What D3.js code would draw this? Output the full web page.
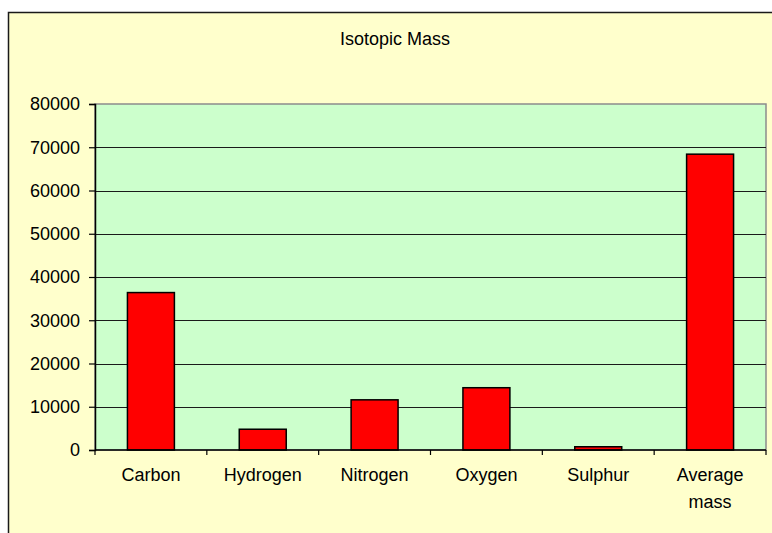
<!DOCTYPE html>
<html>
<head>
<meta charset="utf-8">
<script src="https://cdn.jsdelivr.net/npm/d3@7"></script>
<style>
  body { margin: 0; background: #fff; }
  text { font-family: 'Liberation Sans', Arial, sans-serif; fill: #000; }
</style>
</head>
<body>
<svg id="chart"></svg>
<script>
const categories = ['Carbon', 'Hydrogen', 'Nitrogen', 'Oxygen', 'Sulphur', 'Average mass'];
const massValues = [36400, 4800, 11600, 14400, 750, 68400];
const yTicks = [0, 10000, 20000, 30000, 40000, 50000, 60000, 70000, 80000];
const chartTitle = 'Isotopic Mass';

const width = 772;
const height = 533;
const plot = { left: 95, right: 766, top: 104, bottom: 450 };

const svg = d3.select('#chart')
  .attr('width', width)
  .attr('height', height);

// chart area (runs off the right and bottom edge in the original)
svg.append('rect')
  .attr('x', 8.5)
  .attr('y', 12.5)
  .attr('width', 774)
  .attr('height', 540)
  .attr('fill', '#ffffcc')
  .attr('stroke', '#1a1a1a')
  .attr('stroke-width', 1.5);

svg.append('text')
  .attr('x', 395)
  .attr('y', 45)
  .attr('text-anchor', 'middle')
  .attr('font-size', 18)
  .text(chartTitle);

const yScale = d3.scaleLinear()
  .domain([0, d3.max(yTicks)])
  .range([plot.bottom, plot.top]);

const xScale = d3.scaleBand()
  .domain(categories)
  .range([plot.left, plot.right])
  .paddingInner(0.58)
  .paddingOuter(0.29);

const xCat = d3.scaleBand()
  .domain(categories)
  .range([plot.left, plot.right]);

// plot area
svg.append('rect')
  .attr('x', plot.left)
  .attr('y', plot.top)
  .attr('width', plot.right - plot.left)
  .attr('height', plot.bottom - plot.top)
  .attr('fill', '#ccffcc')
  .attr('stroke', '#8c8c8c')
  .attr('stroke-width', 1.5);

// gridlines
svg.append('g')
  .selectAll('line')
  .data(yTicks.filter(d => d > 0 && d < d3.max(yTicks)))
  .enter().append('line')
  .attr('x1', plot.left)
  .attr('x2', plot.right)
  .attr('y1', d => Math.round(yScale(d)) + 0.5)
  .attr('y2', d => Math.round(yScale(d)) + 0.5)
  .attr('stroke', '#1a1a1a')
  .attr('stroke-width', 1.2);

// bars
svg.append('g')
  .selectAll('rect')
  .data(massValues)
  .enter().append('rect')
  .attr('x', (d, i) => xScale(categories[i]))
  .attr('y', d => yScale(d))
  .attr('width', xScale.bandwidth())
  .attr('height', d => yScale(0) - yScale(d))
  .attr('fill', '#ff0000')
  .attr('stroke', '#000')
  .attr('stroke-width', 1.5);

// y axis
const yAxis = svg.append('g')
  .attr('transform', `translate(${plot.left}, 0)`)
  .call(d3.axisLeft(yScale).tickValues(yTicks).tickFormat(d3.format('d')).tickSize(6).tickPadding(9));
yAxis.select('.domain').attr('stroke', '#000').attr('stroke-width', 1.5);
yAxis.selectAll('.tick line').attr('stroke', '#000').attr('stroke-width', 1.2);
yAxis.selectAll('text').attr('font-size', 18).attr('fill', '#000');

// x axis
const xAxis = svg.append('g')
  .attr('transform', `translate(0, ${plot.bottom})`);
xAxis.append('line')
  .attr('x1', plot.left)
  .attr('x2', plot.right)
  .attr('stroke', '#000')
  .attr('stroke-width', 1.5);
xAxis.selectAll('.cat-tick')
  .data(categories.concat(['end']))
  .enter().append('line')
  .attr('class', 'cat-tick')
  .attr('x1', (d, i) => i < categories.length ? xCat(d) : plot.right)
  .attr('x2', (d, i) => i < categories.length ? xCat(d) : plot.right)
  .attr('y1', 0)
  .attr('y2', 5)
  .attr('stroke', '#000')
  .attr('stroke-width', 1.2);

const labels = xAxis.selectAll('.cat-label')
  .data(categories)
  .enter().append('text')
  .attr('class', 'cat-label')
  .attr('text-anchor', 'middle')
  .attr('font-size', 18)
  .attr('x', d => xCat(d) + xCat.bandwidth() / 2)
  .attr('y', 31);

labels.each(function (d) {
  const words = d.split(' ');
  const el = d3.select(this);
  words.forEach((w, i) => {
    el.append('tspan')
      .attr('x', xCat(d) + xCat.bandwidth() / 2)
      .attr('dy', i === 0 ? 0 : 26.5)
      .text(w);
  });
});
</script>
</body>
</html>
